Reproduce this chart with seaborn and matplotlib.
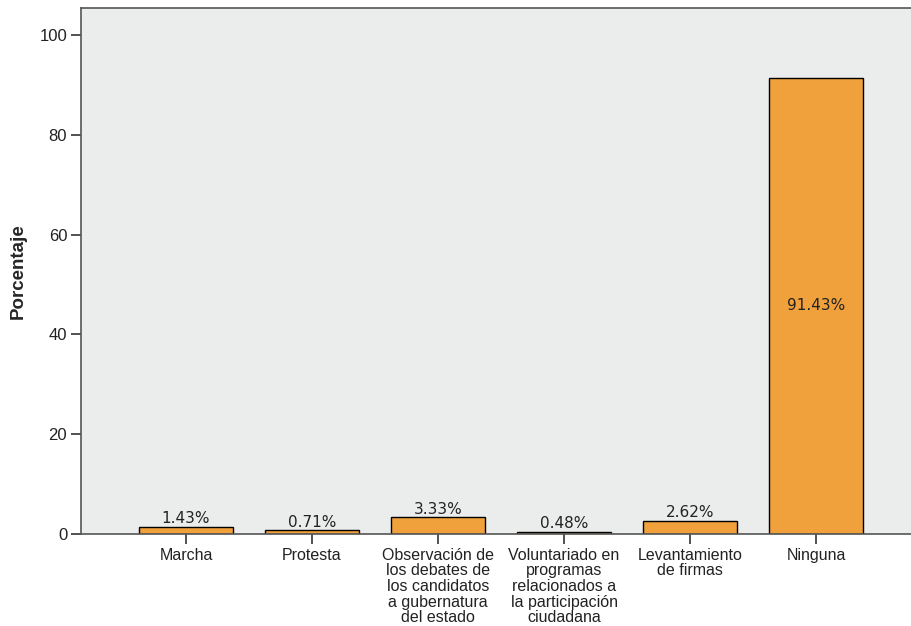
import pandas as pd
import seaborn as sns
import matplotlib.pyplot as plt

# categories and percentages
categorias = ["Marcha", "Protesta",
              "Observación de\nlos debates de\nlos candidatos\na gubernatura\ndel estado",
              "Voluntariado en\nprogramas\nrelacionados a\nla participación\nciudadana",
              "Levantamiento\nde firmas", "Ninguna"]
porcentajes = [1.43, 0.71, 3.33, 0.48, 2.62, 91.43]
etiquetas = ["1.43%", "0.71%", "3.33%", "0.48%", "2.62%", "91.43%"]
yticks = [0, 20, 40, 60, 80, 100]

df = pd.DataFrame({"cat": categorias, "pct": porcentajes})

sns.set_style("white")
plt.rcParams['font.family'] = ['Liberation Sans', 'DejaVu Sans']

fig = plt.figure(figsize=(9.11, 6.26), dpi=100)
ax = fig.add_axes([0.089, 0.147, 0.911, 0.84])
ax.set_facecolor('#ebecec')

sns.barplot(data=df, x='cat', y='pct', color='#f0a13c', saturation=1,
            width=0.75, edgecolor='black', linewidth=1, ax=ax)

for bar, txt, v in zip(ax.patches, etiquetas, porcentajes):
    cx = bar.get_x() + bar.get_width() / 2
    if v > 50:
        ax.text(cx, v / 2, txt, ha='center', va='center', fontsize=11,
                family='DejaVu Sans', color='#222222')
    else:
        ax.text(cx, v + 0.1, txt, ha='center', va='bottom', fontsize=11,
                family='DejaVu Sans', color='#222222')

ax.set_xlim(-0.833, 5.754)
ax.set_ylim(0, 105.4)
ax.set_yticks(yticks)
ax.set_xlabel('')
ax.set_ylabel('Porcentaje', fontsize=13.5, fontweight='bold', labelpad=9)

for s in ['left', 'top', 'bottom']:
    ax.spines[s].set_color('#555555')
    ax.spines[s].set_linewidth(1.2)
ax.spines['right'].set_visible(False)

ax.tick_params(axis='both', direction='out', length=7, width=1.2,
               color='#333333', labelcolor='#222222', pad=3,
               left=True, bottom=True)
ax.tick_params(axis='y', labelsize=12)
ax.tick_params(axis='x', labelsize=11.5)
plt.setp(ax.get_xticklabels(), linespacing=1.05, va='top')

plt.savefig('out.png', dpi=100)
